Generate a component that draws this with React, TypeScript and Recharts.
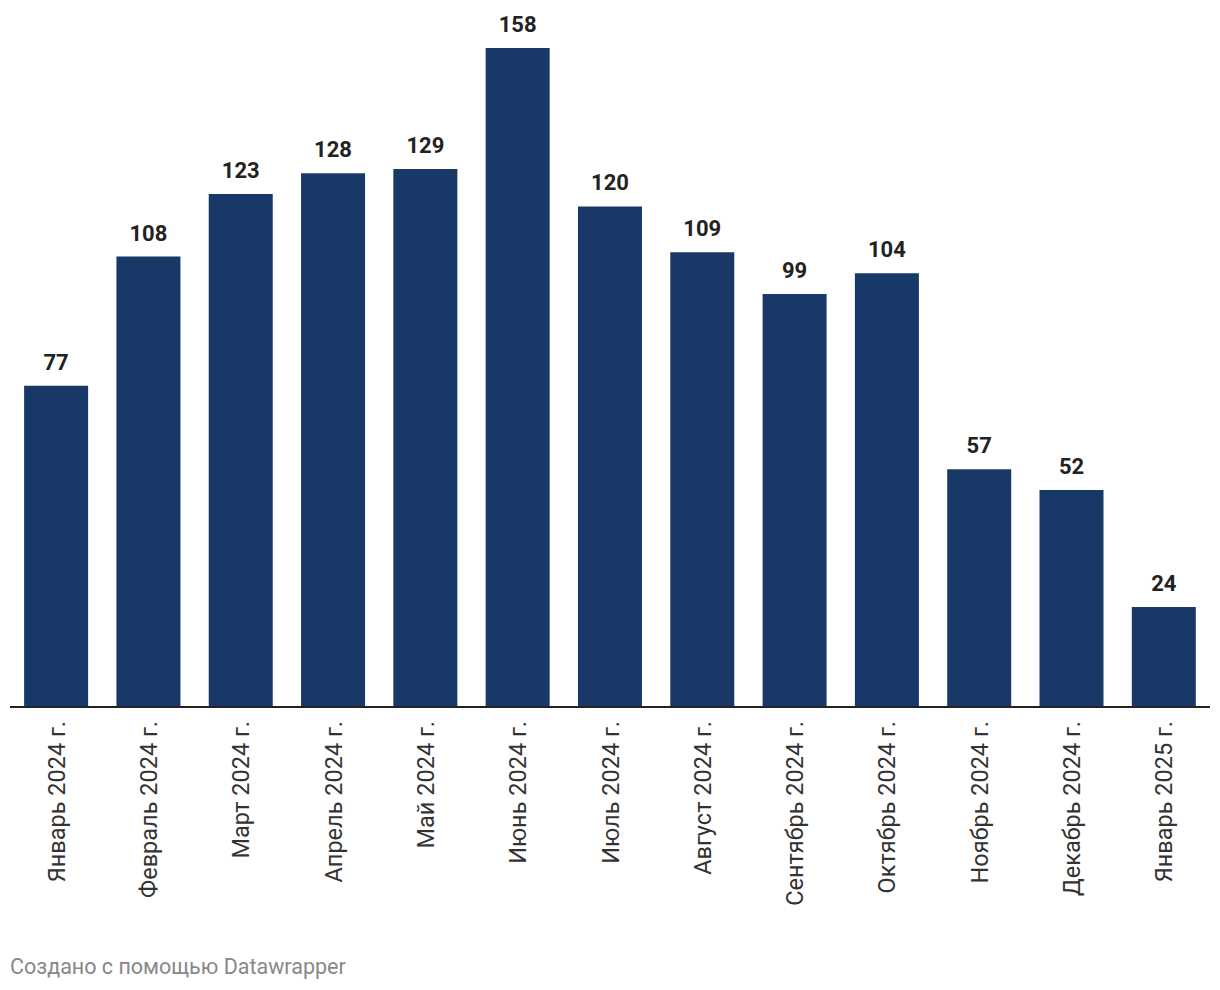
import { BarChart, Bar, XAxis, YAxis, LabelList } from "recharts";

const months = [
  "Январь 2024 г.",
  "Февраль 2024 г.",
  "Март 2024 г.",
  "Апрель 2024 г.",
  "Май 2024 г.",
  "Июнь 2024 г.",
  "Июль 2024 г.",
  "Август 2024 г.",
  "Сентябрь 2024 г.",
  "Октябрь 2024 г.",
  "Ноябрь 2024 г.",
  "Декабрь 2024 г.",
  "Январь 2025 г.",
];

const counts = [77, 108, 123, 128, 129, 158, 120, 109, 99, 104, 57, 52, 24];

const data = months.map((month, i) => ({ month, value: counts[i] }));

const FONT = "Roboto, 'Noto Sans', sans-serif";

function MonthTick(props: any) {
  const { x, y, payload } = props;
  const ty = y + 6;
  return (
    <text
      x={x}
      y={ty}
      dy={8.5}
      textAnchor="end"
      transform={`rotate(-90, ${x}, ${ty})`}
      fontFamily={FONT}
      fontSize={23.5}
      fill="#333"
    >
      {payload.value}
    </text>
  );
}

export default function App() {
  return (
    <div style={{ position: "absolute", left: 0, top: 0, width: 1220, height: 990, background: "#fff" }}>
      <BarChart
        width={1220}
        height={940}
        data={data}
        margin={{ top: 48, right: 10, left: 10, bottom: 0 }}
        barCategoryGap="15.3%"
      >
        <XAxis
          dataKey="month"
          interval={0}
          height={233}
          tickLine={false}
          axisLine={{ stroke: "#222", strokeWidth: 2 }}
          tick={<MonthTick />}
        />
        <YAxis hide domain={[0, 158]} />
        <Bar dataKey="value" fill="#183868" isAnimationActive={false}>
          <LabelList
            dataKey="value"
            position="top"
            offset={16}
            fontFamily={FONT}
            fontSize={22}
            fontWeight={700}
            fill="#222"
          />
        </Bar>
      </BarChart>
      <div
        style={{
          position: "absolute",
          left: 10,
          top: 956,
          fontFamily: FONT,
          fontSize: 21.5,
          lineHeight: 1,
          color: "#888",
        }}
      >
        Создано с помощью Datawrapper
      </div>
    </div>
  );
}
